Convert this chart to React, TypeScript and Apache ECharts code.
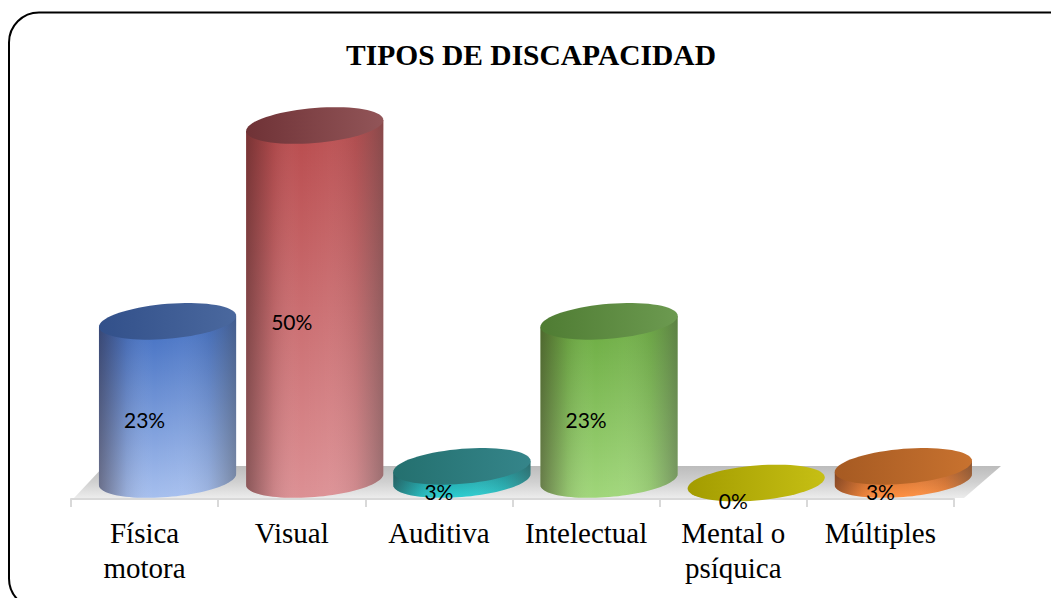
import React, { useEffect, useRef } from "react";
import * as echarts from "echarts";

const titleText = "TIPOS DE DISCAPACIDAD";
const categories = ["Física\nmotora", "Visual", "Auditiva", "Intelectual", "Mental o\npsíquica", "Múltiples"];
const values = [23, 50, 3, 23, 0, 3];
const capColors = [
  ["#32508a", "#4a689e"],
  ["#6f3236", "#925558"],
  ["#24706f", "#35858a"],
  ["#4f7c33", "#6c9a50"],
  ["#a39c00", "#c6bf14"],
  ["#a65a22", "#c8722f"],
];
const bodyColors = [
  ["#3f6cc0", "#a6bfee"],
  ["#b84a4c", "#dc9094"],
  ["#1a8488", "#2ccdd0"],
  ["#6aaa40", "#a0d67a"],
  ["#a39c00", "#c6bf14"],
  ["#b85f26", "#ff8f40"],
];

const linear = (x2: number, y2: number, stops: string[]) =>
  new echarts.graphic.LinearGradient(
    0, 0, x2, y2,
    stops.map((color, i) => ({ offset: i / (stops.length - 1), color }))
  );

function ellipseArc(cx: number, cy: number, rx: number, ry: number, shear: number, from: number, to: number, n: number) {
  const pts: number[][] = [];
  for (let k = 0; k <= n; k++) {
    const t = from + ((to - from) * k) / n;
    pts.push([cx + rx * Math.cos(t), cy + ry * Math.sin(t) - shear * Math.cos(t)]);
  }
  return pts;
}

function renderCylinder(params: any, api: any) {
  const i = api.value(0);
  const v = api.value(1);
  const band = api.size([1, 0])[0];
  const center = api.coord([i, 0]);
  const base = api.coord([i, -1.5]);
  const floorY = base[1];
  const rx = band * 0.466;
  const cx = center[0] + band * 0.156;
  const ry = 17.5;
  const shear = 5.5;
  const bottomY = floorY - 19.5;
  const topY = Math.min(api.coord([i, v])[1], floorY - 16);
  const children: any[] = [];
  if (v > 0) {
    const front = ellipseArc(cx, bottomY, rx, ry, shear, Math.PI, 0, 48);
    const capFront = [[cx - rx, topY + shear], ...front, [cx + rx, topY - shear]];
    children.push({
      type: "polygon",
      shape: { points: capFront },
      style: { fill: linear(0, 1, bodyColors[i]) },
    });
    children.push({
      type: "polygon",
      shape: { points: capFront },
      style: {
        fill: linear(1, 0, [
          "rgba(40,20,20,0.45)",
          "rgba(40,20,20,0.10)",
          "rgba(255,255,255,0.0)",
          "rgba(255,255,255,0.04)",
          "rgba(90,90,90,0.10)",
          "rgba(70,70,70,0.42)",
        ]),
      },
    });
  }
  children.push({
    type: "polygon",
    shape: { points: ellipseArc(cx, topY, rx, ry, shear, 0, Math.PI * 2, 72) },
    style: { fill: linear(1, 0, capColors[i]) },
  });
  children.push({
    type: "text",
    style: {
      x: center[0],
      y: (topY + floorY) / 2 + 9,
      text: values[i] + "%",
      fill: "#000000",
      font: "21px Lato",
      align: "center",
      verticalAlign: "middle",
    },
  });
  return { type: "group", children };
}

export default function App() {
  const ref = useRef<HTMLDivElement>(null);
  useEffect(() => {
    document.body.style.margin = "0";
    document.body.style.background = "#ffffff";
    const chart = echarts.init(ref.current!, undefined, { renderer: "svg" });
    chart.setOption({
      animation: false,
      backgroundColor: "#ffffff",
      title: {
        text: titleText,
        left: 526,
        top: 35,
        textAlign: "center",
        textStyle: { fontFamily: "Liberation Serif", fontWeight: "bold", fontSize: 29.5, color: "#000000" },
      },
      grid: { left: 71, right: 97, top: 53, bottom: 99, containLabel: false },
      xAxis: {
        type: "category",
        data: categories,
        boundaryGap: true,
        axisLine: { onZero: false, lineStyle: { color: "#d9d9d9", width: 2 } },
        axisTick: { show: true, alignWithLabel: false, length: 8, lineStyle: { color: "#d9d9d9", width: 2 } },
        axisLabel: {
          interval: 0,
          margin: 16,
          color: "#000000",
          fontFamily: "Liberation Serif",
          fontSize: 29,
          lineHeight: 35,
        },
      },
      yAxis: { type: "value", min: -1.5, max: 60, show: false, splitLine: { show: false } },
      graphic: [
        {
          type: "polygon",
          z: 0,
          shape: { points: [[74, 498], [104, 466], [1001, 466], [964, 498]] },
          style: { fill: linear(0, 1, ["#bcbcbc", "#d0d0d0", "#ececec"]) },
        },
        {
          type: "rect",
          z: 100,
          shape: { x: 9, y: 12.5, width: 1070, height: 596, r: 30 },
          style: { fill: "none", stroke: "#000000", lineWidth: 2 },
        },
      ],
      series: [
        {
          type: "custom",
          z: 5,
          renderItem: renderCylinder,
          clip: false,
          encode: { x: 0, y: 1 },
          data: values.map((v, i) => [i, v]),
        },
      ],
    });
    return () => chart.dispose();
  }, []);
  return <div ref={ref} style={{ width: 1051, height: 598 }} />;
}
